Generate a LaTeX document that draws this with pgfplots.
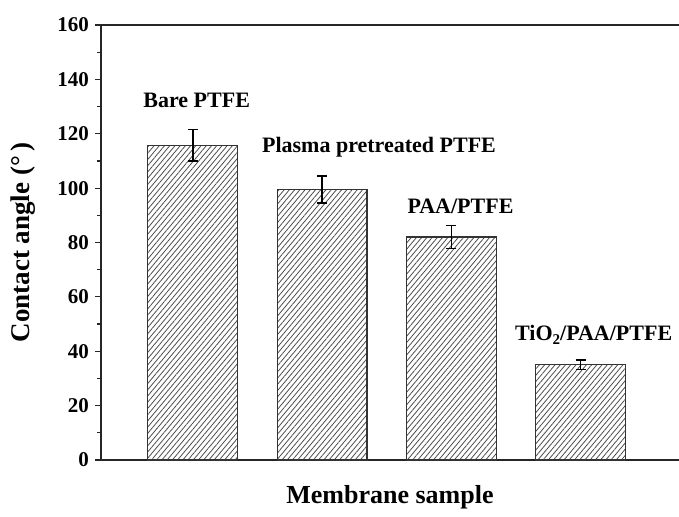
\documentclass[border=0pt]{standalone}
\usepackage{pgfplots}
\pgfplotsset{compat=1.18}
\usepackage{fontspec}
\setmainfont{Liberation Serif}
\usetikzlibrary{patterns.meta,calc}

\begin{document}
\begin{tikzpicture}
\begin{axis}[
  scale only axis, width=289pt, height=217.5pt,
  xmin=0.29, xmax=4.76, ymin=0, ymax=160,
  axis x line*=bottom, axis y line*=left,
  axis line style={line width=1pt, black!85},
  xtick=\empty,
  ytick={0,20,...,160}, minor y tick num=1,
  tick align=outside,
  major tick length=3pt, minor tick length=1.8pt,
  every tick/.style={line width=0.6pt, black!85},
  /pgf/number format/assume math mode=true,
  yticklabel style={font=\bfseries\fontsize{10.5}{12}\selectfont, xshift=0.5pt},
  xlabel={Membrane sample},
  ylabel={Contact angle (°\,)},
  xlabel style={font=\bfseries\fontsize{13}{15}\selectfont, at={(axis description cs:0.5,-0.085)}, anchor=center},
  ylabel style={font=\bfseries\fontsize{13.5}{15}\selectfont, at={(axis description cs:-0.135,0.5)}, anchor=center},
  clip=false,
]
\addplot[ybar, bar width=0.695, draw=black!80, line width=0.6pt,
  pattern={Lines[angle=50,distance=2.0pt,line width=0.4pt]}, pattern color=black!70,
  error bars/.cd, y dir=both, y explicit,
  error bar style={line width=0.7pt, black},
  error mark options={rotate=90, mark size=2.5pt, line width=0.7pt, black}]
  coordinates {(1,115.8) +- (0,5.8) (2,99.5) +- (0,5.0) (3,82) +- (0,4.2) (4,35) +- (0,1.8)};
\draw[line width=1pt, black!85] (rel axis cs:0,1) -- (rel axis cs:1,1);
\node[font=\bfseries\fontsize{11}{13}\selectfont] at (axis cs:1.03,132.4) {Bare PTFE};
\node[font=\bfseries\fontsize{11}{13}\selectfont] at (axis cs:2.44,115.1) {Plasma pretreated PTFE};
\node[font=\bfseries\fontsize{11}{13}\selectfont] at (axis cs:3.07,93.4) {PAA/PTFE};
\node[font=\bfseries\fontsize{11}{13}\selectfont] at (axis cs:4.10,46) {TiO\raisebox{-0.45ex}{\fontsize{7.5}{8}\selectfont 2}/PAA/PTFE};
\end{axis}
\pgfresetboundingbox
\path ($(current axis.south west)+(-50.5pt,-28pt)$) rectangle ($(current axis.north east)+(0pt,12.5pt)$);
\end{tikzpicture}
\end{document}
